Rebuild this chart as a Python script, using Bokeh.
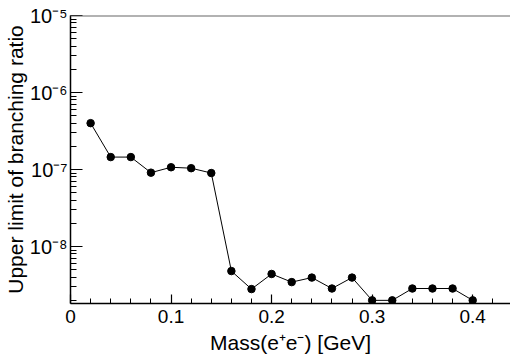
from bokeh.plotting import figure
from bokeh.models import Range1d, FixedTicker, Span
from bokeh.embed import file_html
from bokeh.resources import INLINE

# ---- data ----
mass = [0.02, 0.04, 0.06, 0.08, 0.10, 0.12, 0.14, 0.16, 0.18, 0.20,
        0.22, 0.24, 0.26, 0.28, 0.30, 0.32, 0.34, 0.36, 0.38, 0.40]
upper_limit = [4.0e-7, 1.45e-7, 1.45e-7, 9.1e-8, 1.07e-7, 1.04e-7, 9.0e-8,
               4.8e-9, 2.8e-9, 4.4e-9, 3.45e-9, 3.95e-9, 2.85e-9, 3.95e-9,
               2.0e-9, 2.0e-9, 2.85e-9, 2.85e-9, 2.85e-9, 2.0e-9]
x_major = [0.0, 0.1, 0.2, 0.3, 0.4]
x_labels = ["0", "0.1", "0.2", "0.3", "0.4"]
x_minor = [0.02, 0.04, 0.06, 0.08, 0.12, 0.14, 0.16, 0.18, 0.22, 0.24,
           0.26, 0.28, 0.32, 0.34, 0.36, 0.38, 0.42]
y_decades = [1e-9, 1e-8, 1e-7, 1e-6, 1e-5]
y_labels = ["10\u207b\u2079", "10\u207b\u2078", "10\u207b\u2077",
            "10\u207b\u2076", "10\u207b\u2075"]
x_title = "Mass(e\u207ae\u207b) [GeV]"
y_title = "Upper limit of branching ratio"

FONT = "Liberation Sans"

y_minor = [m * d for d in y_decades for m in range(2, 10)]

p = figure(width=510, height=362, output_backend="svg", toolbar_location=None,
           y_axis_type="log",
           x_range=Range1d(0, 0.4376), y_range=Range1d(1.82e-9, 1e-5),
           min_border_left=68, min_border_right=0, min_border_top=15,
           min_border_bottom=59)
p.background_fill_color = "white"
p.border_fill_color = "white"
p.outline_line_color = None
p.grid.visible = False

# x axis
xa = p.xaxis[0]
xa.ticker = FixedTicker(ticks=x_major, minor_ticks=x_minor)
xa.major_label_overrides = {t: l for t, l in zip(x_major, x_labels)}
xa.major_label_text_font = FONT
xa.major_label_text_font_size = "19px"
xa.major_label_text_color = "black"
xa.major_label_standoff = 6
xa.major_tick_in = 9
xa.major_tick_out = 0
xa.minor_tick_in = 5
xa.minor_tick_out = 0
xa.axis_line_color = "black"
xa.axis_line_width = 1.5
xa.major_tick_line_width = 1.2
xa.axis_label = x_title
xa.axis_label_text_font = FONT
xa.axis_label_text_font_size = "21px"
xa.axis_label_text_font_style = "normal"
xa.axis_label_text_color = "black"
xa.axis_label_standoff = 5

# y axis
ya = p.yaxis[0]
ya.ticker = FixedTicker(ticks=y_decades, minor_ticks=y_minor)
ya.major_label_overrides = {t: l for t, l in zip(y_decades, y_labels)}
ya.major_label_text_font = FONT
ya.major_label_text_font_size = "20px"
ya.major_label_text_color = "black"
ya.major_label_standoff = 3
ya.major_tick_in = 12
ya.major_tick_out = 0
ya.minor_tick_in = 6
ya.minor_tick_out = 0
ya.axis_line_color = "black"
ya.axis_line_width = 1.5
ya.major_tick_line_width = 1.2
ya.axis_label = y_title
ya.axis_label_text_font = FONT
ya.axis_label_text_font_size = "21px"
ya.axis_label_text_font_style = "normal"
ya.axis_label_text_color = "black"
ya.axis_label_standoff = 0

# top frame line
p.add_layout(Span(location=1e-5, dimension="width", line_color="#666666",
                  line_width=2))

p.line(mass, upper_limit, line_color="black", line_width=1)
p.scatter(mass, upper_limit, size=7.5, fill_color="black", line_color="black")

open("out.html", "w").write(file_html(p, INLINE))
